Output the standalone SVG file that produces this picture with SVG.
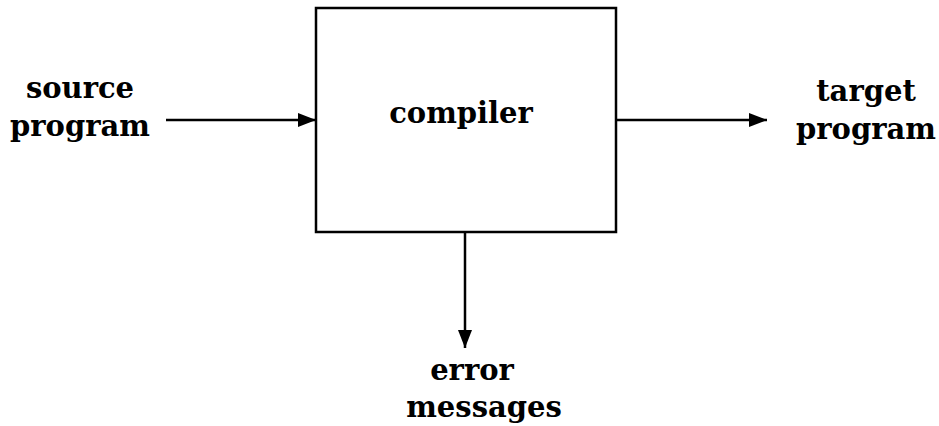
<svg xmlns="http://www.w3.org/2000/svg" width="939" height="426" viewBox="0 0 939 426">
<style>
text{font-family:"DejaVu Serif","Liberation Serif",serif;font-weight:bold;font-size:29px;fill:#000;text-anchor:middle}
.box{fill:#fff;stroke:#000;stroke-width:2.5}
.conn line{stroke:#000;stroke-width:2.5}
</style>
<defs>
<marker id="ah" markerWidth="20" markerHeight="16" refX="18" refY="7" orient="auto" markerUnits="userSpaceOnUse">
<path d="M0,0 L18,7 L0,14 Z" fill="#000"/>
</marker>
</defs>
<g id="compiler">
<rect class="box" x="316" y="8" width="300" height="224"/>
<text x="461" y="123">compiler</text>
</g>
<g id="source">
<text x="80" y="98">source</text>
<text x="80" y="136">program</text>
</g>
<g id="target">
<text x="866" y="101">target</text>
<text x="866" y="139">program</text>
</g>
<g id="errors">
<text x="472" y="380">error</text>
<text x="484" y="417">messages</text>
</g>
<g class="conn" id="connectors">
<line x1="166" y1="120" x2="316" y2="120" marker-end="url(#ah)"/>
<line x1="616" y1="120" x2="767" y2="120" marker-end="url(#ah)"/>
<line x1="465" y1="232" x2="465" y2="348" marker-end="url(#ah)"/>
</g>
</svg>
